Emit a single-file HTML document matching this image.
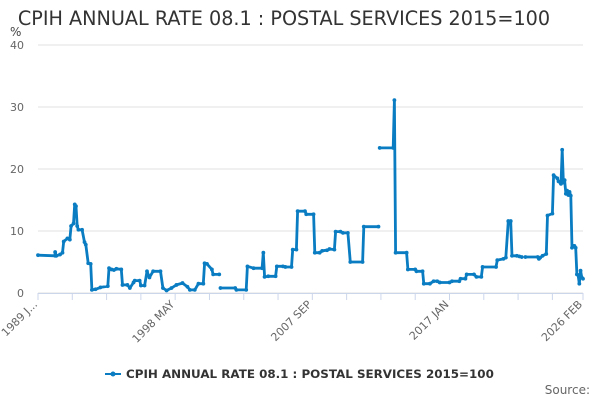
<!DOCTYPE html>
<html><head><meta charset="utf-8"><style>
body{margin:0;background:#fff;font-family:"Liberation Sans",sans-serif}
svg text{font-family:"DejaVu Sans","Liberation Sans",sans-serif}
</style></head><body>
<svg id="c" width="600" height="400">
<text x="284" y="25" text-anchor="middle" font-size="19.2" fill="#333">CPIH ANNUAL RATE 08.1 : POSTAL SERVICES 2015=100</text>
<text x="10" y="36" font-size="12" fill="#444">%</text>
<g id="grid"></g><g id="xax"></g><g id="series"></g>
<g>
<line x1="105" y1="374" x2="121" y2="374" stroke="#0a7dc2" stroke-width="2"/>
<circle cx="113" cy="374" r="2.5" fill="#0a7dc2"/>
<text x="126" y="378" font-size="11.9" font-weight="bold" fill="#333">CPIH ANNUAL RATE 08.1 : POSTAL SERVICES 2015=100</text>
</g>
<text x="590" y="394" text-anchor="end" font-size="12" fill="#666">Source:</text>
</svg>
<script>
const yTicks=[0,10,20,30,40];
const xTickLabels=["1989 J...","1998 MAY","2007 SEP","2017 JAN","2026 FEB"];
const xLabelMonths=[0,112,224,336,445];
const months=[0,14,14,15,18,20,21,24,26,27,29,30,31,32,33,36,38,39,41,43,44,47,51,57,58,60,62,64,68,69,73,75,78,79,83,84,87,89,91,94,100,102,105,109,113,118,122,124,128,131,135,136,138,142,143,148,148,149,161,162,170,171,176,183,184,185,188,194,195,200,202,207,208,211,212,218,219,225,226,230,232,236,238,242,243,247,249,253,255,265,266,278,278,279,290,291,292,301,302,308,309,314,315,320,323,326,328,336,338,344,345,349,350,356,358,362,363,374,375,380,382,384,386,387,391,393,395,395,398,408,409,410,412,415,416,420,421,424,425,427,428,429,430,431,432,433,434,435,436,437,438,439,440,441,442,443,444,445];
const values=[6.1,6.0,6.6,6.0,6.2,6.5,8.3,8.8,8.6,10.8,11.2,14.3,14.0,10.8,10.2,10.2,8.2,7.8,4.8,4.7,0.5,0.6,0.9,1.1,4.0,3.8,3.7,3.9,3.8,1.3,1.3,0.8,1.7,2.0,2.0,1.2,1.2,3.5,2.5,3.5,3.5,0.8,0.4,0.8,1.3,1.6,1.0,0.5,0.5,1.5,1.5,4.8,4.7,3.8,3.0,3.0,null,0.8,0.8,0.5,0.5,4.3,4.0,4.0,6.5,2.6,2.7,2.7,4.3,4.3,4.2,4.2,7.0,7.0,13.2,13.2,12.7,12.7,6.5,6.5,6.8,6.9,7.1,7.0,9.9,9.9,9.7,9.7,5.0,5.0,10.7,10.7,null,23.4,23.4,31.1,6.5,6.5,3.8,3.8,3.5,3.5,1.5,1.5,1.9,1.9,1.7,1.7,1.9,1.9,2.3,2.3,3.0,3.0,2.6,2.6,4.2,4.2,5.3,5.5,5.7,11.6,11.6,6.0,6.0,5.9,5.8,null,5.8,5.8,5.5,5.7,6.0,6.3,12.5,12.8,19.0,18.5,18.0,17.6,23.1,17.8,18.2,16.0,16.5,15.8,16.3,15.7,7.3,7.6,7.6,7.3,3.0,2.9,1.5,3.6,2.5,2.3];
const X0=38,X1=583,Y0=293,Y1=45,MMAX=445,VMAX=40;
const xs=m=>X0+(X1-X0)*m/MMAX, ys=v=>Y0-(Y0-Y1)*v/VMAX;
const NS="http://www.w3.org/2000/svg";
function mk(t,a,p){const e=document.createElementNS(NS,t);for(const k in a)e.setAttribute(k,a[k]);p.appendChild(e);return e;}
const grid=document.getElementById('grid');
yTicks.forEach(v=>{
 const l=mk('line',{x1:X0,x2:X1,y1:ys(v),y2:ys(v),stroke:'#e0e0e0'},grid);
 
 
 const t=mk('text',{x:24,y:ys(v)+4,'text-anchor':'end','font-size':11,fill:'#666'},grid);
 t.textContent=v;
 
 
});
const xax=document.getElementById('xax');
const axl=mk('line',{x1:X0,x2:X1,y1:Y0+0.5,y2:Y0+0.5,stroke:'#ccd6eb'},xax);


for(let m=0;m<=MMAX;m+=28){mk('line',{x1:xs(m),x2:xs(m),y1:Y0,y2:Y0+7,stroke:'#ccd6eb'},xax);}
mk('line',{x1:X1,x2:X1,y1:Y0,y2:Y0+7,stroke:'#ccd6eb'},xax);
xTickLabels.forEach((s,i)=>{
 const x=xs(xLabelMonths[i]),y=Y0+12;
 const t=mk('text',{x:x,y:y,'text-anchor':'end','font-size':11,fill:'#666',transform:`rotate(-45 ${x} ${y})`},xax);
 t.textContent=s;
 
 
});
const g=document.getElementById('series');
let d='',pen=false;
months.forEach((m,i)=>{const v=values[i];if(v==null){pen=false;return;}d+=(pen?'L':'M')+xs(m).toFixed(1)+' '+ys(v).toFixed(1);pen=true;});
const p=mk('path',{d:d,fill:'none',stroke:'#0a7dc2','stroke-width':2.8,'stroke-linejoin':'round'},g);


months.forEach((m,i)=>{const v=values[i];if(v==null)return;
 const c=mk('circle',{cx:xs(m),cy:ys(v),r:1.9,fill:'#0a7dc2'},g);
 
 
});
</script>
</body></html>
